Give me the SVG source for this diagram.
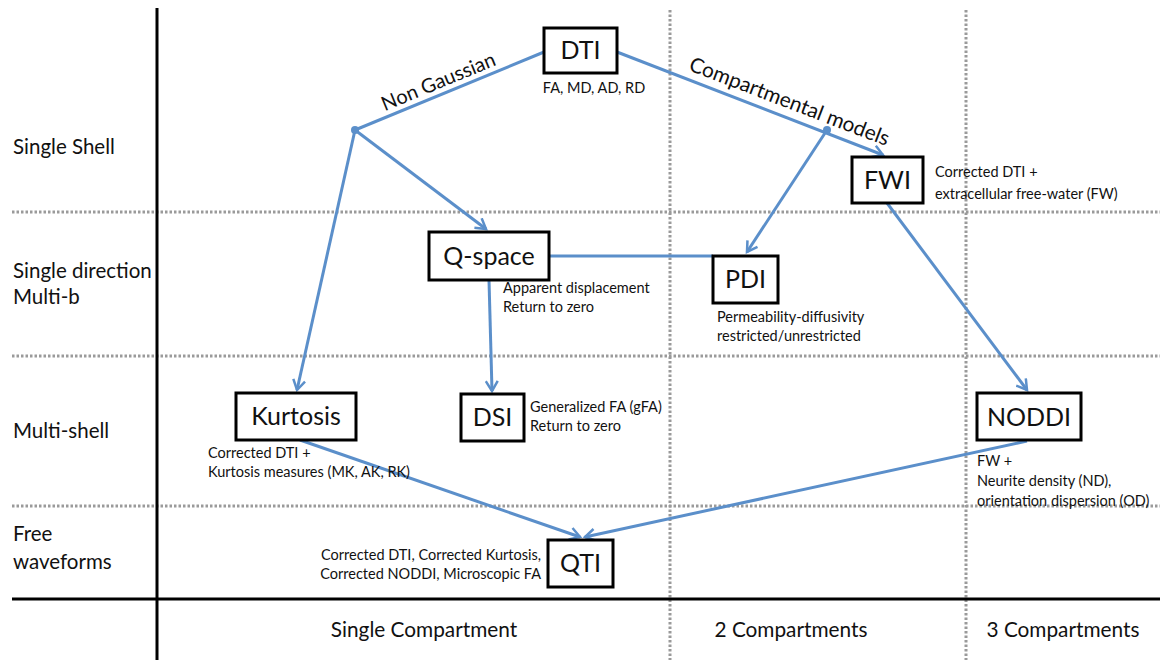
<svg xmlns="http://www.w3.org/2000/svg" width="1160" height="660" viewBox="0 0 1160 660">
<defs>
<style>
text{font-family:Lato,"Open Sans","Liberation Sans",sans-serif;fill:#111}
.dot{stroke:#9a9a9a;stroke-width:3;stroke-dasharray:2.5,2}
.axis{stroke:#000;stroke-width:3}
.box{fill:#fff;stroke:#000;stroke-width:3}
.conn{stroke:#5b8fca;stroke-width:3;fill:none}
.lbl{font-size:25px;text-anchor:middle}
.sm{font-size:14.5px}
.row{font-size:20.5px}
.col{font-size:20.8px;text-anchor:middle}
</style>
<marker id="arr" markerWidth="14" markerHeight="14" refX="11" refY="7" orient="auto" markerUnits="userSpaceOnUse">
<path d="M1,1 L11,7 L1,13" fill="none" stroke="#5b8fca" stroke-width="2.5"/>
</marker>
</defs>
<rect width="1160" height="660" fill="#fff"/>
<g id="grid">
<line class="dot" x1="12" y1="212" x2="1160" y2="212"/>
<line class="dot" x1="12" y1="356" x2="1160" y2="356"/>
<line class="dot" x1="12" y1="506" x2="1160" y2="506"/>
<line class="dot" x1="670" y1="10" x2="670" y2="660"/>
<line class="dot" x1="966" y1="10" x2="966" y2="660"/>
<line class="axis" x1="157" y1="8" x2="157" y2="660"/>
<line class="axis" x1="12" y1="599" x2="1160" y2="599"/>
</g>
<g id="row-labels">
<text class="row" x="13" y="154">Single Shell</text>
<text class="row" x="13" y="278">Single direction</text>
<text class="row" x="13" y="304">Multi-b</text>
<text class="row" x="13" y="438">Multi-shell</text>
<text class="row" x="13" y="541">Free</text>
<text class="row" x="13" y="569">waveforms</text>
</g>
<g id="col-labels">
<text class="col" x="424" y="637">Single Compartment</text>
<text class="col" x="791" y="637">2 Compartments</text>
<text class="col" x="1063" y="637">3 Compartments</text>
</g>
<g id="connectors">
<path class="conn" d="M544,52 L355,130"/>
<path class="conn" d="M617,52 L883,155" marker-end="url(#arr)"/>
<path class="conn" d="M355,130 L297,390" marker-end="url(#arr)"/>
<path class="conn" d="M355,130 L486,229" marker-end="url(#arr)"/>
<path class="conn" d="M827,130 L747,252" marker-end="url(#arr)"/>
<path class="conn" d="M549,256 L713,256"/>
<path class="conn" d="M489,280 L492,391" marker-end="url(#arr)"/>
<path class="conn" d="M887,203 L1027,390" marker-end="url(#arr)"/>
<path class="conn" d="M300,440 L580,537" marker-end="url(#arr)"/>
<path class="conn" d="M1027,441 L585,537" marker-end="url(#arr)"/>
<circle cx="355" cy="130" r="4" fill="#5b8fca"/>
<circle cx="827" cy="130" r="4" fill="#5b8fca"/>
<text x="441" y="88" font-size="20" text-anchor="middle" transform="rotate(-22.4 441 88)">Non Gaussian</text>
<text x="787" y="108" font-size="20.8" text-anchor="middle" transform="rotate(21 787 108)">Compartmental models</text>
</g>
<g id="DTI">
<rect class="box" x="544" y="28" width="73" height="45"/>
<text class="lbl" x="580.5" y="59" font-size="23">DTI</text>
<text class="sm" x="594" y="93" text-anchor="middle">FA, MD, AD, RD</text>
</g>
<g id="FWI">
<rect class="box" x="852" y="157" width="71" height="46"/>
<text class="lbl" x="887.5" y="189" font-size="23">FWI</text>
<text class="sm" x="935" y="177">Corrected DTI +</text>
<text class="sm" x="935" y="199">extracellular free-water (FW)</text>
</g>
<g id="Q-space">
<rect class="box" x="429" y="232" width="120" height="48"/>
<text class="lbl" x="489" y="265">Q-space</text>
<text class="sm" x="503" y="293">Apparent displacement</text>
<text class="sm" x="503" y="312">Return to zero</text>
</g>
<g id="PDI">
<rect class="box" x="713" y="256" width="65" height="47"/>
<text class="lbl" x="745.5" y="288" font-size="23">PDI</text>
<text class="sm" x="717" y="322">Permeability-diffusivity</text>
<text class="sm" x="717" y="341">restricted/unrestricted</text>
</g>
<g id="Kurtosis">
<rect class="box" x="236" y="393" width="120" height="47"/>
<text class="lbl" x="296" y="425">Kurtosis</text>
<text class="sm" x="208" y="458">Corrected DTI +</text>
<text class="sm" x="208" y="477">Kurtosis measures (MK, AK, RK)</text>
</g>
<g id="DSI">
<rect class="box" x="461" y="394" width="63" height="47"/>
<text class="lbl" x="492.5" y="426" font-size="23">DSI</text>
<text class="sm" x="530" y="412">Generalized FA (gFA)</text>
<text class="sm" x="530" y="431">Return to zero</text>
</g>
<g id="NODDI">
<rect class="box" x="977" y="393" width="104" height="47"/>
<text class="lbl" x="1029" y="426" font-size="24">NODDI</text>
<text class="sm" x="977" y="466">FW +</text>
<text class="sm" x="977" y="486">Neurite density (ND),</text>
<text class="sm" x="977" y="506">orientation dispersion (OD)</text>
</g>
<g id="QTI">
<rect class="box" x="548" y="540" width="65" height="47"/>
<text class="lbl" x="580.5" y="572" font-size="24">QTI</text>
<text class="sm" x="541" y="560" text-anchor="end">Corrected DTI, Corrected Kurtosis,</text>
<text class="sm" x="541" y="579" text-anchor="end">Corrected NODDI, Microscopic FA</text>
</g>
</svg>
